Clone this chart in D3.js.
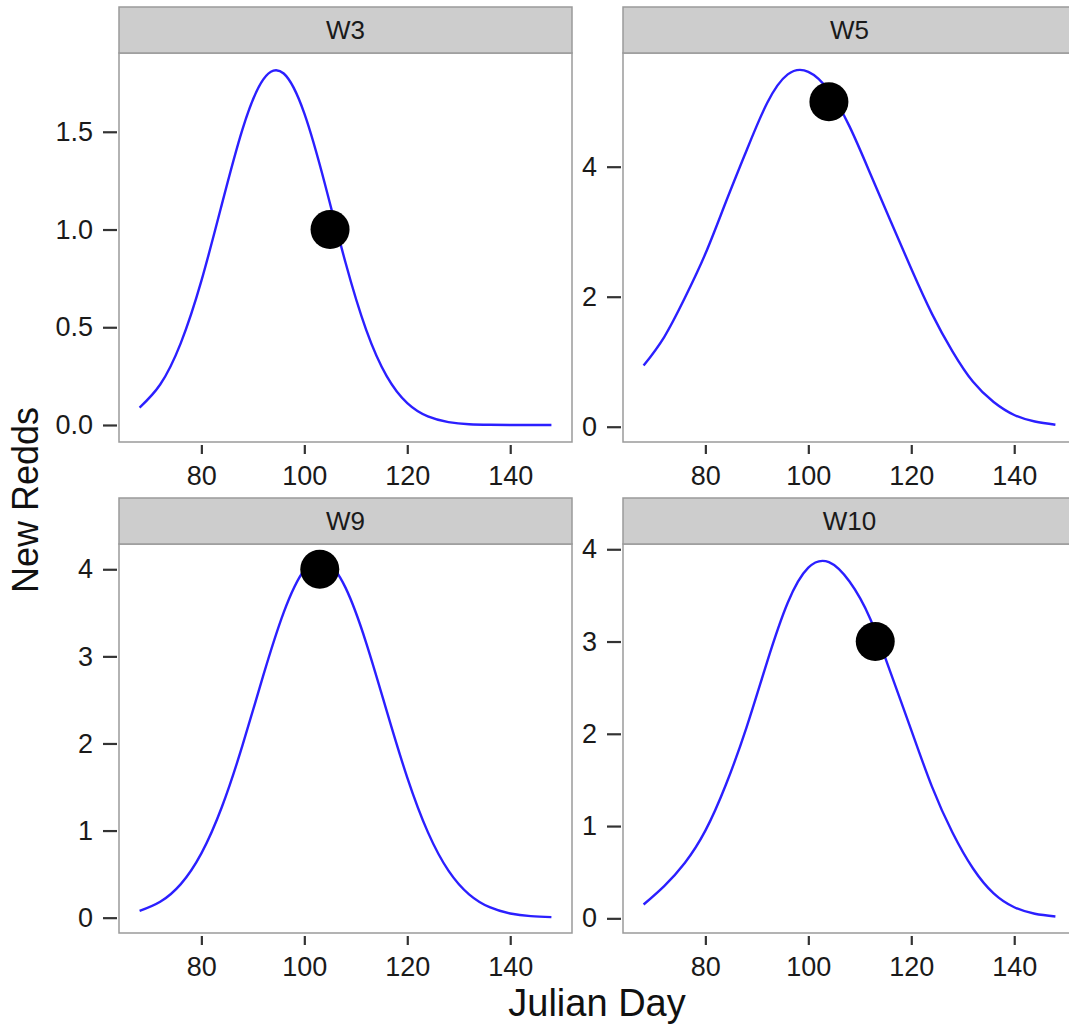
<!DOCTYPE html>
<html>
<head>
<meta charset="utf-8">
<script src="https://cdn.jsdelivr.net/npm/d3@7"></script>
<style>
  html, body { margin: 0; padding: 0; background: #ffffff; overflow: hidden; }
  svg { display: block; }
  text { font-family: "Liberation Sans", Arial, Helvetica, sans-serif; }
</style>
</head>
<body>
<svg id="chart" width="1069" height="1028"></svg>
<script>
// ---------------- data ----------------
const panelNames = ["W3", "W5", "W9", "W10"];
const days = [68, 72, 76, 80, 84, 88, 92, 96, 100, 104, 108, 112, 116, 120, 124, 128, 132, 136, 140, 144, 148];
const fitW3  = [0.089, 0.207, 0.419, 0.737, 1.131, 1.514, 1.767, 1.798, 1.594, 1.233, 0.831, 0.488, 0.250, 0.112, 0.044, 0.015, 0.004, 0.001, 0.000, 0.000, 0.000];
const fitW5  = [0.94, 1.38, 1.98, 2.66, 3.46, 4.25, 4.98, 5.42, 5.46, 5.17, 4.62, 3.90, 3.16, 2.43, 1.74, 1.16, 0.69, 0.38, 0.18, 0.08, 0.03];
const fitW9  = [0.077, 0.182, 0.385, 0.738, 1.273, 1.980, 2.775, 3.505, 3.992, 4.097, 3.789, 3.159, 2.374, 1.608, 0.982, 0.540, 0.268, 0.120, 0.048, 0.018, 0.006];
const fitW10 = [0.15, 0.35, 0.60, 0.95, 1.45, 2.07, 2.78, 3.42, 3.80, 3.86, 3.65, 3.25, 2.66, 2.04, 1.43, 0.93, 0.54, 0.27, 0.12, 0.05, 0.02];
const fits = [fitW3, fitW5, fitW9, fitW10];

const obsDay   = [105, 104, 103, 113];
const obsRedds = [1, 5, 4, 3];

const xDomain = [64, 152];
const yDomains = [[-0.087, 1.903], [-0.235, 5.749], [-0.176, 4.29], [-0.159, 4.057]];

const xTickValues = [80, 100, 120, 140];
const yTickValues = [[0, 0.5, 1, 1.5], [0, 2, 4], [0, 1, 2, 3, 4], [0, 1, 2, 3, 4]];
const yTickFormats = [".1f", "d", "d", "d"];

const xTitle = "Julian Day";
const yTitle = "New Redds";

// ---------------- layout ----------------
const svg = d3.select("#chart");
const colLeft = [119, 623];
const panelW = 453;
const stripTop = [7, 498];
const stripH = 46;
const panelH = 389;

const lineGen = (x, y) => d3.line()
  .x(d => x(d[0]))
  .y(d => y(d[1]))
  .curve(d3.curveNatural);

panelNames.forEach((name, i) => {
  const col = i % 2, row = Math.floor(i / 2);
  const left = colLeft[col];
  const sTop = stripTop[row];
  const top = sTop + stripH;
  const bottom = top + panelH;

  const x = d3.scaleLinear().domain(xDomain).range([left, left + panelW]);
  const y = d3.scaleLinear().domain(yDomains[i]).range([bottom, top]);

  const g = svg.append("g").attr("class", "panel");

  // panel background + border
  g.append("rect")
    .attr("x", left).attr("y", top)
    .attr("width", panelW).attr("height", panelH)
    .attr("fill", "#ffffff")
    .attr("stroke", "#9a9a9a").attr("stroke-width", 1.5);

  // strip
  g.append("rect")
    .attr("x", left).attr("y", sTop)
    .attr("width", panelW).attr("height", stripH)
    .attr("fill", "#cdcdcd")
    .attr("stroke", "#9a9a9a").attr("stroke-width", 1.5);
  g.append("text")
    .attr("x", left + panelW / 2).attr("y", sTop + stripH / 2)
    .attr("text-anchor", "middle").attr("dominant-baseline", "central")
    .attr("font-size", 26).attr("fill", "#1a1a1a")
    .text(name);

  // clip for marks
  const clipId = "clip" + i;
  svg.append("clipPath").attr("id", clipId)
    .append("rect").attr("x", left).attr("y", top).attr("width", panelW).attr("height", panelH);

  const marks = g.append("g").attr("clip-path", `url(#${clipId})`);

  // fitted curve
  const pts = days.map((d, k) => [d, fits[i][k]]);
  marks.append("path")
    .datum(pts)
    .attr("d", lineGen(x, y))
    .attr("fill", "none")
    .attr("stroke", "#2b1fff")
    .attr("stroke-width", 2.4);

  // observed point
  marks.append("circle")
    .attr("cx", x(obsDay[i])).attr("cy", y(obsRedds[i]))
    .attr("r", 19.5)
    .attr("fill", "#000000");

  // x axis
  const xAxis = d3.axisBottom(x).tickValues(xTickValues).tickSize(9).tickPadding(12).tickFormat(d3.format("d"));
  const gx = g.append("g").attr("transform", `translate(0,${bottom + 3})`).call(xAxis);
  gx.select(".domain").remove();
  gx.selectAll(".tick line").attr("stroke", "#333333").attr("stroke-width", 2.2);
  gx.selectAll(".tick text").attr("font-size", 27).attr("fill", "#1a1a1a")
    .attr("font-family", "'Liberation Sans', Arial, Helvetica, sans-serif");

  // y axis
  const yAxis = d3.axisLeft(y).tickValues(yTickValues[i]).tickSize(14).tickPadding(10)
    .tickFormat(d3.format(yTickFormats[i]));
  const gy = g.append("g").attr("transform", `translate(${left - 2},0)`).call(yAxis);
  gy.select(".domain").remove();
  gy.selectAll(".tick line").attr("stroke", "#333333").attr("stroke-width", 2.2);
  gy.selectAll(".tick text").attr("font-size", 27).attr("fill", "#1a1a1a")
    .attr("font-family", "'Liberation Sans', Arial, Helvetica, sans-serif");
});

// axis titles
svg.append("text")
  .attr("x", 597).attr("y", 1016)
  .attr("text-anchor", "middle")
  .attr("font-size", 38).attr("fill", "#111111")
  .text(xTitle);

svg.append("text")
  .attr("transform", "translate(38,500) rotate(-90)")
  .attr("text-anchor", "middle")
  .attr("font-size", 36).attr("fill", "#111111")
  .text(yTitle);
</script>
</body>
</html>
